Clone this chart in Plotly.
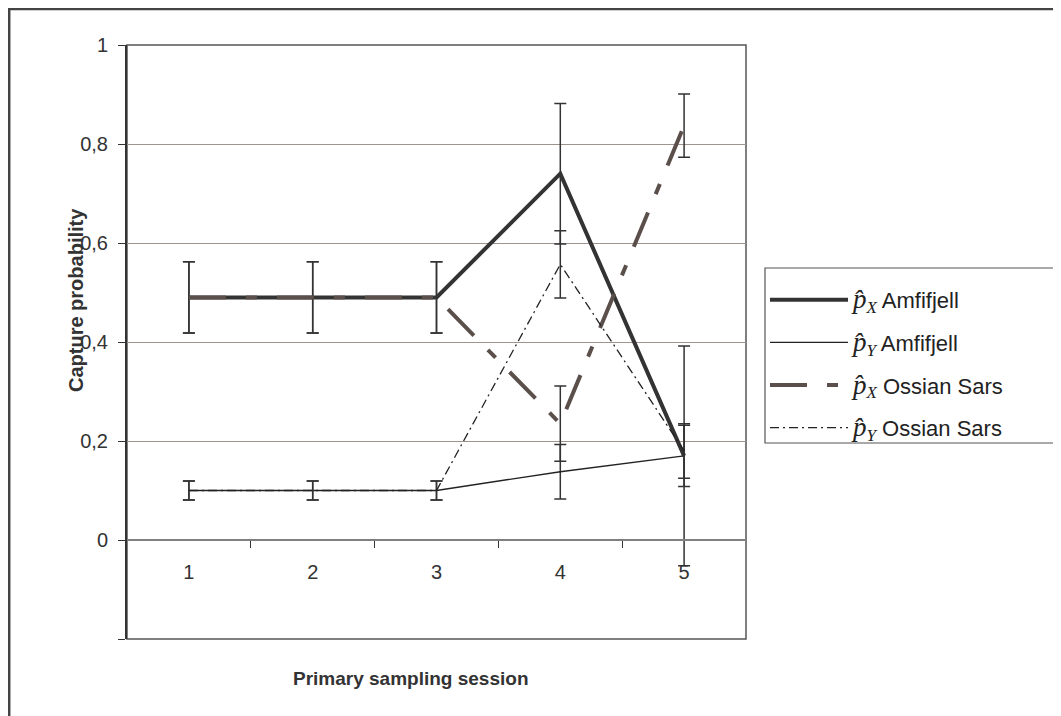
import plotly.graph_objects as go

sessions = [1, 2, 3, 4, 5]
session_labels = ["1", "2", "3", "4", "5"]

px_amf = [0.49, 0.49, 0.49, 0.74, 0.17]
px_amf_err = [0.072, 0.072, 0.072, 0.142, 0.222]
py_amf = [0.10, 0.10, 0.10, 0.138, 0.17]
py_amf_err = [0.019, 0.019, 0.019, 0.055, 0.062]
px_oss = [0.49, 0.49, 0.49, 0.235, 0.837]
px_oss_err = [0.072, 0.072, 0.072, 0.076, 0.064]
py_oss = [0.10, 0.10, 0.10, 0.557, 0.18]
py_oss_err = [0.019, 0.019, 0.019, 0.068, 0.055]

y_tickvals = [-0.2, 0, 0.2, 0.4, 0.6, 0.8, 1.0]
y_ticktext = ["", "0", "0,2", "0,4", "0,6", "0,8", "1"]
boundaries = [1.5, 2.5, 3.5, 4.5]

SERIF = "Liberation Serif"

def lbl(sub, name):
    return (f'<span style="font-family:{SERIF};font-size:27px;font-style:italic">p\u0302</span>'
            f'<sub><span style="font-family:{SERIF};font-style:italic;font-size:17px">{sub}</span></sub> {name}')

err_style = dict(type="data", color="#333333", thickness=1.5, width=6)

fig = go.Figure()
fig.add_trace(go.Scatter(x=sessions, y=px_amf, mode="lines", name=lbl("X", "Amfifjell"),
                         line=dict(color="#333333", width=4),
                         error_y=dict(array=px_amf_err, **err_style), legendgroup="a"))
fig.add_trace(go.Scatter(x=sessions, y=py_amf, mode="lines", name=lbl("Y", "Amfifjell"),
                         line=dict(color="#222222", width=1.4),
                         error_y=dict(array=py_amf_err, **err_style), legendgroup="b"))
fig.add_trace(go.Scatter(x=sessions, y=px_oss, mode="lines", name=lbl("X", "Ossian Sars"),
                         line=dict(color="#5a4f4b", width=4, dash="37px,20px,11px,20px"),
                         error_y=dict(array=px_oss_err, **err_style), legendgroup="c"))
fig.add_trace(go.Scatter(x=sessions, y=py_oss, mode="lines", name=lbl("Y", "Ossian Sars"),
                         line=dict(color="#222222", width=1.3, dash="9px,4px,2px,4px"),
                         error_y=dict(array=py_oss_err, **err_style), legendgroup="d"))

OFF = 8  # page body margin
W, H = 1061, 716
L, R, T, B = 127 - OFF, 315 + OFF, 45 - OFF, 77 + OFF
pw, ph = W - L - R, H - T - B

def px2x(p):
    return (p - OFF - L) / pw

def py2y(p):
    return (H - B - (p - OFF)) / ph

fig.update_layout(
    width=W, height=H,
    margin=dict(l=L, r=R, t=T, b=B, autoexpand=False),
    paper_bgcolor="white", plot_bgcolor="white",
    font=dict(family="Liberation Sans, Arial", size=20, color="#333333"),
    showlegend=True,
    legend=dict(x=px2x(765), y=py2y(279), xanchor="left", yanchor="top",
                borderwidth=0, bgcolor="rgba(0,0,0,0)",
                font=dict(size=22, color="#222222"), tracegroupgap=11,
                itemwidth=78),
    xaxis=dict(range=[0.5, 5.5], anchor="free", position=0.2 / 1.2,
               tickmode="array", tickvals=sessions, ticktext=session_labels,
               ticks="", showgrid=False, zeroline=False,
               showline=True, linecolor="#808080", linewidth=1.5,
               ticklabelstandoff=14,
               minor=dict(tickmode="array", tickvals=boundaries, ticks="outside",
                          ticklen=7, tickcolor="#333333", tickwidth=1.2, showgrid=False),
               tickfont=dict(size=20, color="#333333")),
    yaxis=dict(range=[-0.2, 1.0], tickmode="array", tickvals=y_tickvals, ticktext=y_ticktext,
               ticks="outside", ticklen=7, tickcolor="#333333", tickwidth=1.2,
               showline=True, linecolor="#333333", linewidth=2,
               showgrid=True, gridcolor="#a0928e", gridwidth=1.3, zeroline=False,
               ticklabelstandoff=6, tickfont=dict(size=20, color="#333333")),
    shapes=[
        dict(type="rect", xref="paper", yref="paper", x0=0, x1=1, y0=0, y1=1,
             line=dict(color="#555555", width=1.5), layer="below"),
        dict(type="rect", xref="paper", yref="paper", x0=px2x(9.2), x1=px2x(1100),
             y0=py2y(760), y1=py2y(9), line=dict(color="#444444", width=2.5), layer="below"),
        dict(type="rect", xref="paper", yref="paper", x0=px2x(765), x1=px2x(1100),
             y0=py2y(443), y1=py2y(268), line=dict(color="#555555", width=1.2), layer="above"),
    ],
    annotations=[
        dict(text="<b>Capture probability</b>", textangle=-90, xref="paper", yref="paper",
             x=px2x(76), y=py2y(300), showarrow=False, xanchor="center", yanchor="middle",
             font=dict(size=20, color="#333333")),
        dict(text="<b>Primary sampling session</b>", xref="paper", yref="paper",
             x=px2x(411), y=py2y(678), showarrow=False, xanchor="center", yanchor="middle",
             font=dict(size=19, color="#333333")),
    ],
)

fig.write_html("out.html")
